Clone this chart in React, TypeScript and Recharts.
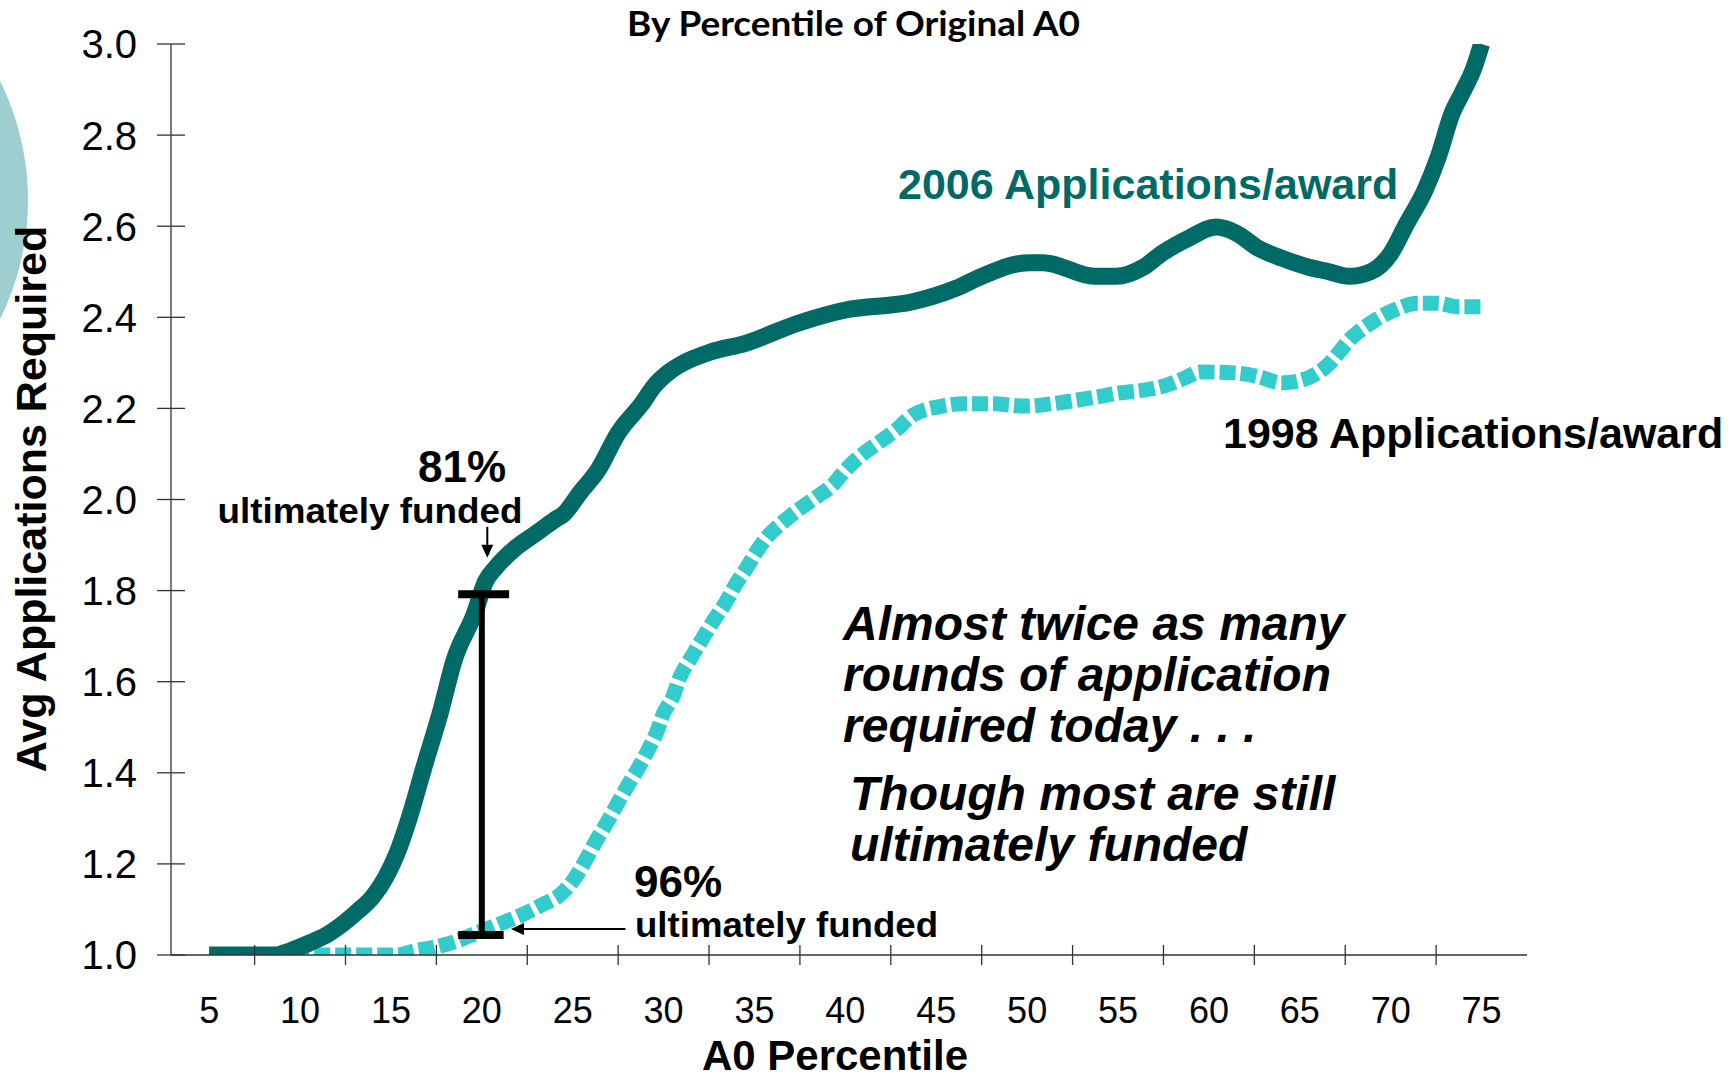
import React from "react";
import { LineChart, Line, XAxis, YAxis, ReferenceLine } from "recharts";

// A0 percentile (x) and avg applications required (y)
const pct2006 = [
  5, 8.6, 9.5, 10.5, 11.5, 12.4, 13.2, 14.0, 14.7, 15.3, 16.0, 16.8, 17.7, 18.5,
  19.6, 20.2, 20.8, 21.9, 23.0, 24.0, 24.5, 25.4, 26.4, 27.5, 28.8, 29.5, 30.3,
  31.1, 32.6, 34.5, 37.4, 40.0, 43.7, 46.1, 47.5, 50.1, 50.9, 53.7, 54.9, 56.4,
  57.4, 58.9, 60.4, 61.5, 62.7, 64.0, 65.5, 66.6, 67.7, 68.9, 70.0, 70.9, 71.9,
  72.6, 73.4, 73.9, 74.6, 75,
];
const apps2006 = [
  1.0, 1.0, 1.01, 1.026, 1.045, 1.07, 1.097, 1.128, 1.17, 1.22, 1.3, 1.41, 1.53,
  1.65, 1.75, 1.82, 1.852, 1.895, 1.926, 1.955, 1.968, 2.015, 2.065, 2.146, 2.21,
  2.25, 2.28, 2.3, 2.324, 2.343, 2.387, 2.416, 2.434, 2.464, 2.49, 2.52, 2.52,
  2.49, 2.49, 2.51, 2.54, 2.574, 2.598, 2.585, 2.552, 2.53, 2.51, 2.5, 2.49, 2.5,
  2.54, 2.607, 2.68, 2.75, 2.85, 2.89, 2.95, 3.0,
];

const pct1998 = [
  5, 15.3, 16.3, 17.5, 18.5, 19.7, 21.1, 22.2, 23.3, 24.3, 25.05, 25.8, 26.3,
  26.9, 27.5, 28.1, 28.6, 29.2, 29.6, 30.0, 30.5, 30.9, 31.5, 32.1, 32.7, 33.4,
  34.0, 34.6, 35.1, 35.7, 36.5, 37.4, 38.4, 39.4, 39.9, 40.9, 41.8, 42.8, 43.7,
  45.2, 46.5, 48, 50, 51.3, 53.8, 55.1, 56.4, 57.6, 58.7, 59.5, 61.4, 62.7, 64.0,
  65.1, 66.4, 67.9, 69.0, 70.2, 71.5, 72.6, 73.7, 75,
];
const apps1998 = [
  1.0, 1.0, 1.009, 1.018, 1.029, 1.048, 1.07, 1.088, 1.11, 1.132, 1.165, 1.215,
  1.252, 1.292, 1.335, 1.377, 1.41, 1.454, 1.487, 1.531, 1.566, 1.61, 1.652,
  1.692, 1.731, 1.773, 1.816, 1.852, 1.885, 1.918, 1.948, 1.977, 2.005, 2.036,
  2.06, 2.098, 2.124, 2.153, 2.185, 2.204, 2.21, 2.21, 2.205, 2.21, 2.225, 2.234,
  2.24, 2.25, 2.267, 2.28, 2.278, 2.27, 2.256, 2.262, 2.29, 2.357, 2.39, 2.416,
  2.431, 2.431, 2.423, 2.423,
];

const xLabels = [5, 10, 15, 20, 25, 30, 35, 40, 45, 50, 55, 60, 65, 70, 75];
const xTickMarks = [7.5, 12.5, 17.5, 22.5, 27.5, 32.5, 37.5, 42.5, 47.5, 52.5, 57.5, 62.5, 67.5, 72.5];
const yTicks = [1.0, 1.2, 1.4, 1.6, 1.8, 2.0, 2.2, 2.4, 2.6, 2.8, 3.0];

// the 2006 vs 1998 gap bar at the 20th percentile
const gapPct = 20;
const gapLow = 1.044;
const gapHigh = 1.792;

const DARK = "#006b66";
const CYAN = "#33cccc";
const FONT = "'Liberation Sans', Arial, sans-serif";

const data2006 = pct2006.map((p, i) => ({ pct: p, apps: apps2006[i] }));
const data1998 = pct1998.map((p, i) => ({ pct: p, apps: apps1998[i] }));

function XTick(props: any) {
  const { x, y, payload } = props;
  const v = payload.value;
  if (xLabels.includes(v)) {
    return (
      <text x={x} y={y + 68} textAnchor="middle" fontSize={36} fontFamily={FONT} fill="#000">
        {v}
      </text>
    );
  }
  return <line x1={x} x2={x} y1={y - 10} y2={y + 10} stroke="#333" strokeWidth={1.3} />;
}

function YTick(props: any) {
  const { x, y, payload } = props;
  return (
    <g>
      <line x1={x - 14} x2={x + 14} y1={y} y2={y} stroke="#333" strokeWidth={1.3} />
      <text x={x - 34} y={y} dy="0.36em" textAnchor="end" fontSize={40} fontFamily={FONT} fill="#000">
        {payload.value.toFixed(1)}
      </text>
    </g>
  );
}

function Arrow(props: any) {
  const { x1, y1, x2, y2 } = props;
  const a = Math.atan2(y2 - y1, x2 - x1);
  const len = 13;
  const half = 6;
  const bx = x2 - len * Math.cos(a);
  const by = y2 - len * Math.sin(a);
  const px = -Math.sin(a) * half;
  const py = Math.cos(a) * half;
  return (
    <g>
      <line x1={x1} y1={y1} x2={bx} y2={by} stroke="#000" strokeWidth={2} />
      <polygon points={`${x2},${y2} ${bx + px},${by + py} ${bx - px},${by - py}`} fill="#000" />
    </g>
  );
}

export default function App() {
  const txt = { fontFamily: FONT, fontWeight: 700 as const, fill: "#000" };
  return (
    <div style={{ position: "absolute", left: 0, top: 0, width: 1735, height: 1080, background: "#fff", overflow: "hidden" }}>
      <svg width={1735} height={1080} style={{ position: "absolute", left: 0, top: 0 }}>
        <circle cx={-239} cy={200} r={267} fill="#9dcfd0" />
      </svg>
      <div style={{ position: "absolute", left: 0, top: 0 }}>
        <LineChart width={1735} height={1080} margin={{ top: 44, right: 208, bottom: 0, left: 0 }}>
          <XAxis
            dataKey="pct"
            type="number"
            domain={[2.9, 77.5]}
            allowDataOverflow
            ticks={[...xLabels, ...xTickMarks].sort((a, b) => a - b)}
            interval={0}
            tick={<XTick />}
            tickLine={false}
            tickSize={0}
            tickMargin={0}
            height={125}
            axisLine={{ stroke: "#333", strokeWidth: 1.3 }}
          />
          <YAxis
            type="number"
            domain={[1, 3]}
            allowDataOverflow
            ticks={yTicks}
            interval={0}
            tick={<YTick />}
            tickLine={false}
            tickSize={0}
            tickMargin={0}
            width={171}
            axisLine={{ stroke: "#333", strokeWidth: 1.3 }}
          />
          <Line
            data={data1998}
            dataKey="apps"
            type="monotone"
            stroke={CYAN}
            strokeWidth={15}
            strokeDasharray="16 5"
            strokeLinejoin="round"
            dot={false}
            activeDot={false}
            isAnimationActive={false}
          />
          <Line
            data={data2006}
            dataKey="apps"
            type="monotone"
            stroke={DARK}
            strokeWidth={17}
            strokeLinejoin="round"
            dot={false}
            activeDot={false}
            isAnimationActive={false}
          />
          <ReferenceLine segment={[{ x: gapPct, y: gapLow }, { x: gapPct, y: gapHigh }]} stroke="#000" strokeWidth={6} />
          <ReferenceLine segment={[{ x: gapPct - 1.3, y: gapHigh }, { x: gapPct + 1.5, y: gapHigh }]} stroke="#000" strokeWidth={8} />
          <ReferenceLine segment={[{ x: gapPct - 1.3, y: gapLow }, { x: gapPct + 1.2, y: gapLow }]} stroke="#000" strokeWidth={8} />
          <ReferenceLine segment={[{ x: 20.3, y: 1.94 }, { x: 20.3, y: 1.872 }]} shape={Arrow} />
          <ReferenceLine segment={[{ x: 27.9, y: 1.057 }, { x: 21.6, y: 1.057 }]} shape={Arrow} />
        </LineChart>
      </div>
      <svg width={1735} height={1080} style={{ position: "absolute", left: 0, top: 0, pointerEvents: "none" }}>
        <text x={627} y={36} fontFamily="Lato, 'Open Sans', sans-serif" fontWeight={700} fontSize={34} textLength={453} lengthAdjust="spacingAndGlyphs" fill="#000">
          By Percentile of Original A0
        </text>
        <text x={898} y={199} fontSize={43} {...txt} fill={DARK}>2006 Applications/award</text>
        <text x={1223} y={448} fontSize={43} {...txt}>1998 Applications/award</text>
        <text x={462} y={482} fontSize={44} textAnchor="middle" {...txt}>81%</text>
        <text x={370} y={523} fontSize={35} textAnchor="middle" textLength={305} lengthAdjust="spacingAndGlyphs" {...txt}>ultimately funded</text>
        <text x={634} y={897} fontSize={44} {...txt}>96%</text>
        <text x={635} y={937} fontSize={35} textLength={303} lengthAdjust="spacingAndGlyphs" {...txt}>ultimately funded</text>
        <g fontSize={48} fontStyle="italic" {...txt}>
          <text x={843} y={640}>Almost twice as many</text>
          <text x={843} y={691}>rounds of application</text>
          <text x={843} y={742}>required today . . .</text>
          <text x={850} y={810}>Though most are still</text>
          <text x={850} y={861}>ultimately funded</text>
        </g>
        <text x={835} y={1070} fontSize={42} textAnchor="middle" {...txt}>A0 Percentile</text>
        <text x={46} y={499} fontSize={43} textAnchor="middle" transform="rotate(-90 46 499)" {...txt}>Avg Applications Required</text>
      </svg>
    </div>
  );
}
